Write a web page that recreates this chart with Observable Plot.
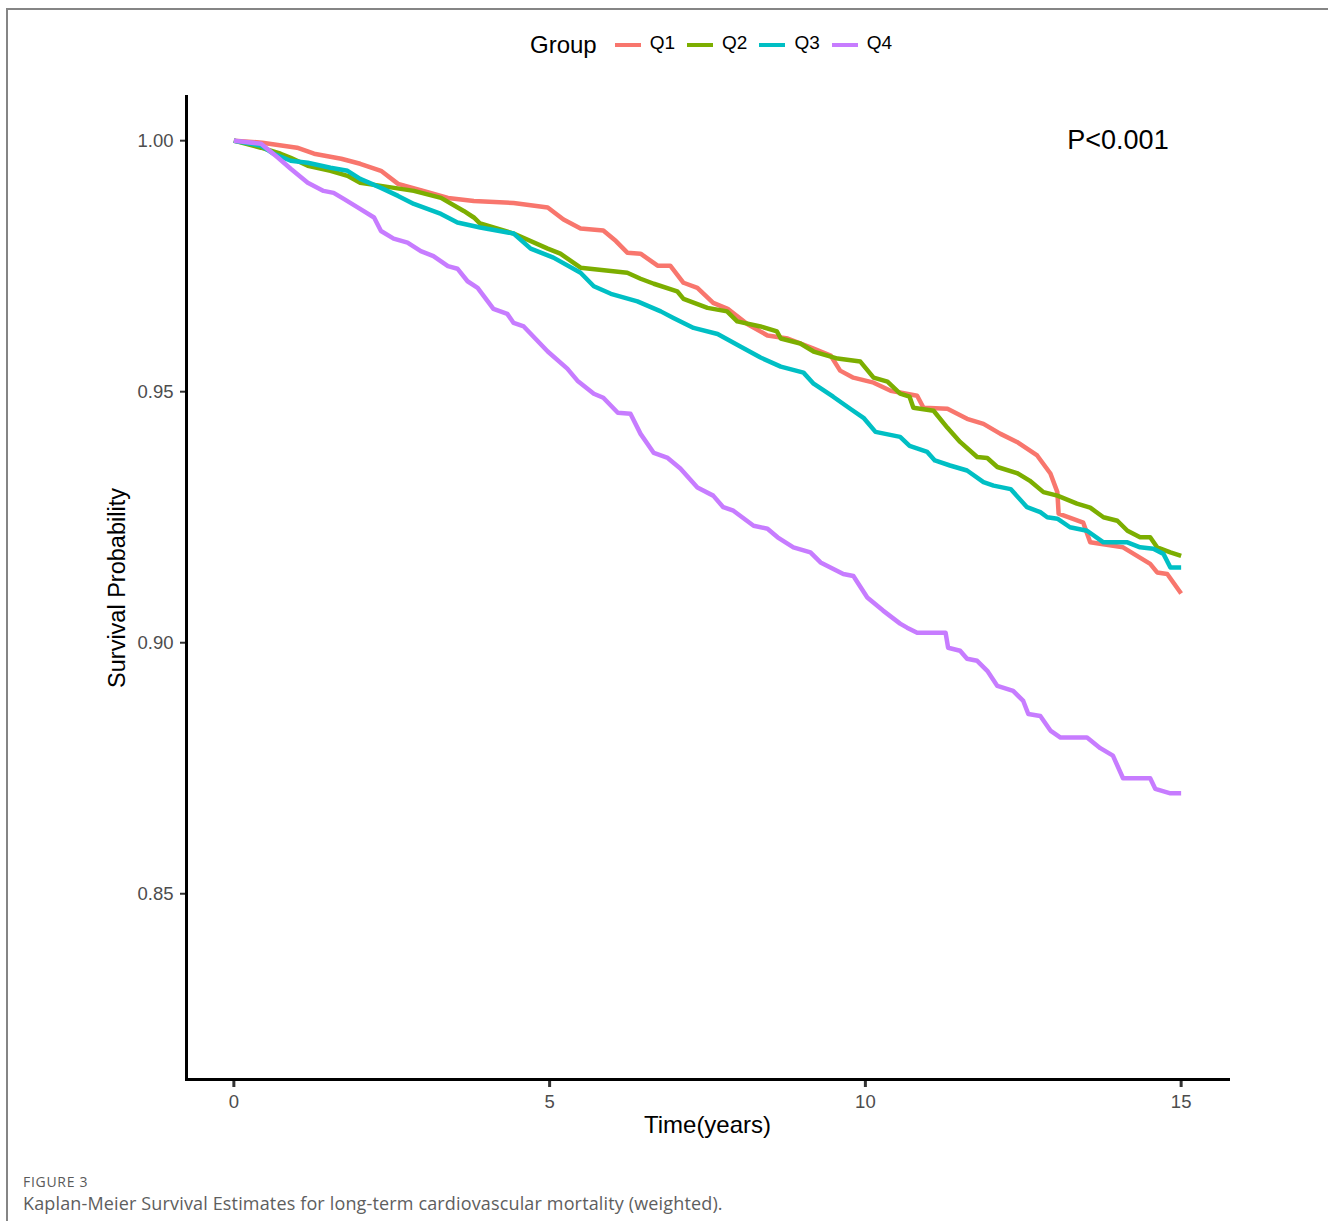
<!DOCTYPE html>
<html><head><meta charset="utf-8">
<script src="https://cdn.jsdelivr.net/npm/d3@7"></script>
<script src="https://cdn.jsdelivr.net/npm/@observablehq/plot@0.6"></script>
<style>
html,body{margin:0;padding:0;background:#fff;}
body{width:1328px;height:1221px;overflow:hidden;position:relative;font-family:"Liberation Sans",Arial,sans-serif;}
#frame{position:absolute;left:6px;top:8px;width:1340px;height:1240px;border-top:2px solid #858585;border-left:2px solid #858585;box-sizing:border-box;}
#legend{position:absolute;left:530px;top:29px;height:32px;display:flex;align-items:center;color:#000;}
#legend .title{font-size:24px;margin-right:18px;}
#legend .sw{width:26px;height:4px;margin-right:9px;}
#legend .lab{font-size:19px;margin-right:12px;margin-top:-4px;}
#chart{position:absolute;left:0;top:70px;}
#cap1{position:absolute;left:23px;top:1172px;font-family:"Open Sans",sans-serif;font-size:14px;color:#5a5a5a;letter-spacing:0.7px;}
#cap2{position:absolute;left:23px;top:1191px;font-family:"Open Sans",sans-serif;font-size:18px;color:#5e5e5e;letter-spacing:0.15px;}
</style>
</head><body>
<div id="frame"></div>
<div id="legend"></div>
<div id="chart"></div>
<div id="cap1"></div>
<div id="cap2"></div>
<script>
const groups = ["Q1","Q2","Q3","Q4"];
const colors = ["#F8766D","#7CAE00","#00BFC4","#C77CFF"];
const legendTitle = "Group";
const xTicks = [0,5,10,15];
const yTicks = [0.85,0.90,0.95,1.00];
const xLabel = "Time(years)";
const yLabel = "Survival Probability";
const pText = ["P<0.001"];
const pX = [14];
const pY = [1.0];
const captionHead = "FIGURE 3";
const captionText = "Kaplan-Meier Survival Estimates for long-term cardiovascular mortality (weighted).";

const q1Time = [0,0.45,1.0,1.27,1.7,2.0,2.33,2.6,3.0,3.39,3.8,4.43,4.97,5.22,5.49,5.85,6.05,6.23,6.44,6.71,6.91,7.12,7.34,7.59,7.82,8.13,8.45,8.77,9.18,9.45,9.6,9.81,10.13,10.4,10.82,10.92,11.3,11.61,11.87,12.14,12.4,12.72,12.93,13.04,13.06,13.45,13.56,14.08,14.51,14.62,14.78,15.0];
const q1Surv = [1.0,0.9996,0.9986,0.9974,0.9964,0.9954,0.994,0.9914,0.99,0.9886,0.988,0.9876,0.9867,0.9843,0.9825,0.9821,0.98,0.9777,0.9775,0.9751,0.9751,0.9717,0.9707,0.9677,0.9665,0.9635,0.9612,0.9606,0.9586,0.9572,0.9542,0.9528,0.9518,0.9502,0.9492,0.9468,0.9466,0.9446,0.9436,0.9416,0.94,0.9373,0.9337,0.93,0.9257,0.9239,0.92,0.919,0.9157,0.914,0.9137,0.9098];

const q2Time = [0,0.43,0.74,0.9,1.17,1.53,1.8,2.0,2.33,2.85,3.28,3.64,3.8,3.9,4.43,4.97,5.17,5.49,6.23,6.44,6.65,7.02,7.12,7.5,7.81,7.97,8.34,8.6,8.66,8.97,9.18,9.56,9.92,10.13,10.35,10.55,10.7,10.76,11.08,11.3,11.5,11.77,11.93,12.09,12.4,12.6,12.82,13.04,13.35,13.56,13.77,13.99,14.15,14.35,14.51,14.62,14.83,15.0];
const q2Surv = [1.0,0.9986,0.9974,0.9966,0.995,0.994,0.993,0.9916,0.991,0.99,0.9886,0.986,0.9847,0.9835,0.9815,0.9785,0.9775,0.9747,0.9737,0.9725,0.9715,0.97,0.9685,0.9667,0.966,0.964,0.963,0.962,0.9606,0.9596,0.958,0.9566,0.956,0.9528,0.952,0.9496,0.949,0.9468,0.9462,0.9428,0.94,0.937,0.9368,0.935,0.9338,0.9323,0.93,0.9293,0.9277,0.9269,0.925,0.9243,0.9223,0.921,0.921,0.919,0.918,0.9173];

const q3Time = [0,0.43,0.63,0.9,1.17,1.53,1.8,2.0,2.33,2.6,2.85,3.28,3.54,3.9,4.43,4.7,5.06,5.49,5.7,5.97,6.39,6.76,6.96,7.28,7.66,8.02,8.34,8.66,9.02,9.18,9.49,9.76,9.97,10.16,10.55,10.7,10.98,11.1,11.34,11.61,11.87,12.03,12.3,12.56,12.77,12.88,13.04,13.24,13.51,13.77,14.15,14.35,14.56,14.72,14.83,15.0];
const q3Surv = [1.0,0.999,0.9974,0.996,0.9956,0.9946,0.994,0.9924,0.9906,0.989,0.9874,0.9854,0.9837,0.9827,0.9815,0.9785,0.9767,0.9737,0.971,0.9695,0.968,0.966,0.9647,0.9627,0.9615,0.959,0.9568,0.955,0.9538,0.9516,0.949,0.9466,0.9448,0.942,0.941,0.9392,0.938,0.9363,0.9353,0.9343,0.932,0.9313,0.9306,0.927,0.926,0.925,0.9247,0.923,0.9223,0.92,0.92,0.919,0.9187,0.9177,0.915,0.915];

const q4Time = [0,0.43,0.7,0.9,1.17,1.42,1.58,1.74,1.96,2.22,2.33,2.53,2.75,2.96,3.16,3.39,3.54,3.7,3.86,4.11,4.33,4.43,4.59,4.97,5.28,5.44,5.7,5.85,6.08,6.28,6.44,6.65,6.87,7.07,7.34,7.59,7.75,7.91,8.23,8.45,8.61,8.86,9.13,9.29,9.65,9.81,10.03,10.28,10.55,10.66,10.82,11.27,11.31,11.5,11.61,11.77,11.93,12.09,12.34,12.5,12.58,12.77,12.93,13.09,13.51,13.72,13.92,14.08,14.51,14.59,14.83,15.0];
const q4Surv = [1.0,0.9994,0.9966,0.9944,0.9916,0.99,0.9896,0.9884,0.9867,0.9847,0.982,0.9805,0.9797,0.978,0.977,0.975,0.9745,0.972,0.9707,0.9665,0.9655,0.9637,0.963,0.958,0.9546,0.9522,0.9496,0.9488,0.9458,0.9456,0.9416,0.9378,0.9368,0.9347,0.9309,0.9293,0.927,0.9263,0.9233,0.9227,0.921,0.919,0.918,0.916,0.9137,0.9133,0.909,0.9064,0.9038,0.903,0.902,0.902,0.899,0.8984,0.8968,0.8964,0.8944,0.8914,0.8904,0.8884,0.8858,0.8854,0.8825,0.8811,0.8811,0.879,0.8775,0.873,0.873,0.8709,0.87,0.87];

const series = [[q1Time,q1Surv],[q2Time,q2Surv],[q3Time,q3Surv],[q4Time,q4Surv]];
const table = [];
series.forEach(([t,s],i)=>t.forEach((v,j)=>table.push({group:groups[i],time:v,surv:s[j]})));
const annot = pText.map((d,i)=>({label:d,x:pX[i],y:pY[i]}));

// legend
const leg = document.getElementById("legend");
const tt = document.createElement("span"); tt.className="title"; tt.textContent=legendTitle; leg.appendChild(tt);
groups.forEach((g,i)=>{
  const sw=document.createElement("span"); sw.className="sw"; sw.style.background=colors[i]; leg.appendChild(sw);
  const lb=document.createElement("span"); lb.className="lab"; lb.textContent=g; leg.appendChild(lb);
});
document.getElementById("cap1").textContent=captionHead;
document.getElementById("cap2").textContent=captionText;

const chart = Plot.plot({
  width: 1328, height: 1090,
  marginTop: 26, marginBottom: 81, marginLeft: 186, marginRight: 100,
  style: {fontFamily: "'Liberation Sans', Arial, sans-serif", background: "transparent", overflow: "visible"},
  x: {domain: [-0.75, 15.75]},
  y: {domain: [0.813, 1.0088]},
  color: {domain: groups, range: colors},
  marks: [
    Plot.axisY({ticks: yTicks, tickFormat: d3.format(".2f"), tickSize: 6, tickPadding: 7, fontSize: 18.5, fill: "#4d4d4d", stroke: "#333", strokeWidth: 2, label: null}),
    Plot.axisX({ticks: xTicks, tickFormat: d3.format("d"), tickSize: 8, tickPadding: 7, fontSize: 18.5, fill: "#4d4d4d", stroke: "#333", strokeWidth: 3, label: null}),
    Plot.frame({anchor: "left", stroke: "#000", strokeWidth: 3}),
    Plot.frame({anchor: "bottom", stroke: "#000", strokeWidth: 3}),
    Plot.line(table, {x: "time", y: "surv", z: "group", stroke: "group", strokeWidth: 4.5, strokeLinejoin: "round", strokeLinecap: "butt"}),
    Plot.text(annot, {x: "x", y: "y", text: "label", fontSize: 27, fill: "#000"}),
    Plot.text([yLabel], {frameAnchor: "left", textAnchor: "middle", dx: -69, rotate: -90, fontSize: 23.5, fill: "#000", text: d => d}),
    Plot.text([xLabel], {frameAnchor: "bottom", textAnchor: "middle", dy: 53, fontSize: 24, fill: "#000", text: d => d})
  ]
});
document.getElementById("chart").appendChild(chart);
</script>
</body></html>
